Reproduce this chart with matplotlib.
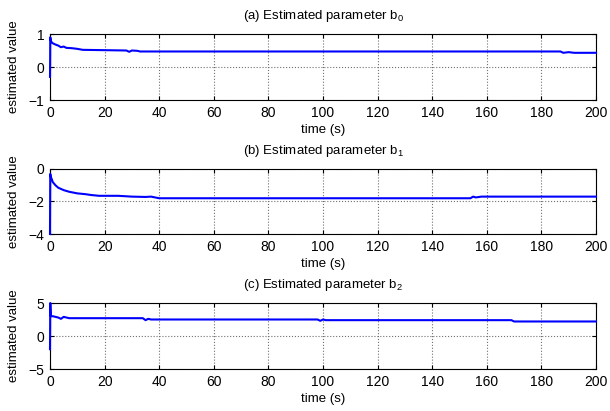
import numpy as np
import matplotlib
matplotlib.use('Agg')
import matplotlib.pyplot as plt

plt.rcParams['font.family'] = ['Liberation Sans', 'DejaVu Sans']
plt.rcParams['mathtext.fontset'] = 'custom'
plt.rcParams['mathtext.rm'] = 'Liberation Sans'
plt.rcParams['mathtext.it'] = 'Liberation Sans'

# breakpoints: (time in s, estimated value)
t_b0 = [0, 0.05, 0.1, 0.3, 0.6, 1, 2, 3, 4, 5, 6, 8, 10, 12, 20, 28, 29, 30, 32, 33,
        60, 100, 140, 180, 187, 188, 190, 192, 200]
v_b0 = [-0.3, 0.1, 0.9, 0.8, 0.75, 0.72, 0.68, 0.65, 0.6, 0.62, 0.58, 0.57, 0.55, 0.52,
        0.51, 0.5, 0.46, 0.5, 0.49, 0.47, 0.47, 0.47, 0.47, 0.47, 0.47, 0.43, 0.45, 0.43, 0.43]

t_b1 = [0, 0.05, 0.1, 0.3, 0.6, 1, 2, 3, 5, 7, 10, 13, 15, 18, 25, 30, 35, 37, 40,
        80, 120, 154, 155, 156, 158, 160, 200]
v_b1 = [-4.0, -2.0, -0.3, -0.5, -0.6, -0.8, -1.0, -1.15, -1.3, -1.4, -1.5, -1.55, -1.6,
        -1.65, -1.65, -1.7, -1.72, -1.7, -1.8, -1.8, -1.8, -1.8, -1.7, -1.75, -1.7, -1.7, -1.7]

t_b2 = [0, 0.05, 0.1, 0.3, 1, 2, 3, 4, 5, 6, 7, 20, 34, 35, 36, 37, 60, 98, 99, 100, 101,
        140, 169, 170, 200]
v_b2 = [-2.0, 1.0, 5.0, 3.0, 3.0, 2.9, 2.8, 2.6, 2.9, 2.8, 2.7, 2.7, 2.7, 2.4, 2.6, 2.5,
        2.5, 2.5, 2.3, 2.5, 2.4, 2.4, 2.4, 2.2, 2.2]

panels = [
    (t_b0, v_b0, '(a) Estimated parameter b$_0$', (-1, 1), [-1, 0, 1]),
    (t_b1, v_b1, '(b) Estimated parameter b$_1$', (-4, 0), [-4, -2, 0]),
    (t_b2, v_b2, '(c) Estimated parameter b$_2$', (-5, 5), [-5, 0, 5]),
]

fig = plt.figure(figsize=(6.10, 4.11), dpi=100)
W, H = 610, 411
tops = [34, 169, 303]
bots = [100, 234, 369]
left, right = 50, 596

for (t, v, title, ylim, yticks), top, bot in zip(panels, tops, bots):
    ax = fig.add_axes([left / W, 1 - bot / H, (right - left) / W, (bot - top) / H])
    ax.plot(t, v, color='#0000ff', lw=1.5, clip_on=False, zorder=3)
    ax.set_xlim(0, 200)
    ax.set_ylim(*ylim)
    ax.set_xticks(np.arange(0, 201, 20))
    ax.set_yticks(yticks)
    ax.grid(True, color='#707070', linestyle=':', linewidth=0.8)
    ax.tick_params(direction='in', top=True, right=True, labelsize=10, length=3, pad=4)
    for s in ax.spines.values():
        s.set_linewidth(0.8)
    ax.set_title(title, fontsize=9.5, pad=11)
    ax.set_xlabel('time (s)', fontsize=9.5, labelpad=3)
    ax.set_ylabel('estimated value', fontsize=9.5)
    ax.yaxis.set_label_coords(-30 / (right - left), 0.5)

fig.savefig('out.png', dpi=100)
